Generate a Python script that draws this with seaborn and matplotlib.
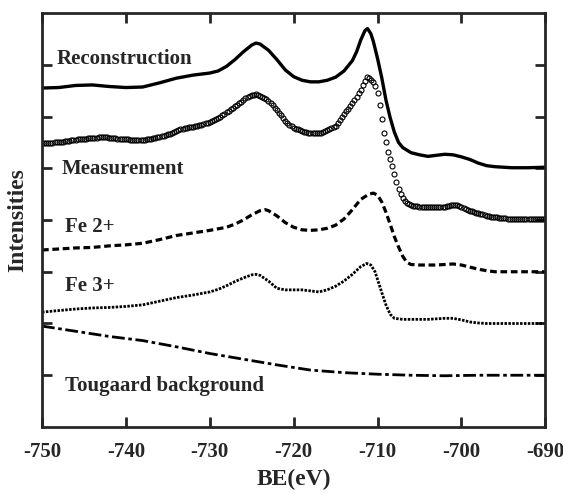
import numpy as np
import pandas as pd
import matplotlib
matplotlib.use("Agg")
import matplotlib.pyplot as plt
import seaborn as sns

# Widma Fe 2p (wartosci, przesuniete pionowo)
recon_be = [-750, -748, -746, -744, -742, -740, -738, -736, -734, -732, -730, -729, -728,
            -727, -726, -725, -724.5, -724, -723, -722, -721, -720, -719, -718, -717, -716,
            -715, -714, -713, -712.5, -712, -711.5, -711.2, -710.8, -710.5, -710, -709.5,
            -709, -708.5, -708, -707.5, -707, -706, -705, -704, -703, -702, -701, -700,
            -699, -698, -697, -696, -694, -692, -690]
recon_int = [6.55, 6.56, 6.60, 6.61, 6.58, 6.56, 6.57, 6.65, 6.74, 6.80, 6.84, 6.88, 6.97,
             7.10, 7.25, 7.38, 7.42, 7.40, 7.28, 7.10, 6.90, 6.77, 6.70, 6.67, 6.67, 6.70,
             6.76, 6.88, 7.08, 7.25, 7.48, 7.66, 7.70, 7.60, 7.45, 7.12, 6.75,
             6.32, 5.98, 5.70, 5.50, 5.40, 5.30, 5.26, 5.23, 5.25, 5.27, 5.26, 5.22,
             5.17, 5.10, 5.05, 5.03, 5.01, 5.01, 5.02]

# pomiar: co 0.25 eV od -750 do -690
meas_be = np.arange(-750, -689.99, 0.25)
meas_int = [
    5.48, 5.48, 5.48, 5.49, 5.49, 5.49, 5.50, 5.50, 5.50, 5.51, 5.51, 5.52, 5.52, 5.53, 5.54, 5.55, 5.55, 5.56, 5.56, 5.57,
    5.57, 5.57, 5.58, 5.58, 5.58, 5.59, 5.59, 5.60, 5.60, 5.60, 5.60, 5.60, 5.59, 5.59, 5.58, 5.58, 5.57, 5.57, 5.57, 5.56,
    5.56, 5.56, 5.55, 5.55, 5.55, 5.55, 5.55, 5.55, 5.55, 5.55, 5.56, 5.56, 5.57, 5.58, 5.59, 5.60, 5.61, 5.62, 5.63, 5.64,
    5.66, 5.67, 5.69, 5.70, 5.72, 5.73, 5.75, 5.76, 5.77, 5.78, 5.79, 5.79, 5.80, 5.81, 5.82, 5.83, 5.84, 5.85, 5.87, 5.88,
    5.90, 5.92, 5.94, 5.96, 5.98, 6.00, 6.03, 6.05, 6.08, 6.11, 6.14, 6.17, 6.20, 6.23, 6.26, 6.29, 6.32, 6.35, 6.37, 6.39,
    6.41, 6.42, 6.43, 6.42, 6.40, 6.38, 6.36, 6.33, 6.30, 6.26, 6.22, 6.17, 6.12, 6.07, 6.02, 5.97, 5.92, 5.88, 5.84, 5.81,
    5.78, 5.76, 5.75, 5.73, 5.72, 5.71, 5.70, 5.69, 5.68, 5.68, 5.68, 5.68, 5.68, 5.69, 5.70, 5.72, 5.74, 5.75, 5.77, 5.79,
    5.82, 5.87, 5.93, 5.99, 6.05, 6.10, 6.15, 6.20, 6.26, 6.32, 6.38, 6.45, 6.52, 6.60, 6.68, 6.76, 6.74, 6.70, 6.66, 6.58,
    6.45, 6.22, 5.95, 5.68, 5.50, 5.32, 5.17, 5.05, 4.88, 4.74, 4.60, 4.50, 4.43, 4.37, 4.33, 4.31, 4.29, 4.28, 4.27, 4.27,
    4.26, 4.26, 4.26, 4.26, 4.26, 4.26, 4.26, 4.26, 4.26, 4.26, 4.25, 4.25, 4.26, 4.27, 4.28, 4.29, 4.29, 4.29, 4.29, 4.28,
    4.25, 4.23, 4.21, 4.20, 4.18, 4.17, 4.15, 4.14, 4.13, 4.12, 4.11, 4.10, 4.08, 4.07, 4.06, 4.06, 4.05, 4.05, 4.04, 4.04,
    4.03, 4.03, 4.02, 4.02, 4.01, 4.01, 4.01, 4.01, 4.01, 4.01, 4.01, 4.01, 4.02, 4.02, 4.02, 4.02, 4.02, 4.02, 4.02, 4.02,
    4.02]

fe2_be = [-750, -748, -746, -744, -742, -740, -738, -736, -734, -732, -730, -728, -727, -726,
          -725, -724, -723.4, -723, -722, -721, -720, -719, -718, -717, -716, -715, -714,
          -713, -712, -711, -710.5, -710, -709.5, -709, -708.5, -708, -707.5, -707, -706.5,
          -706, -705, -704, -703, -702, -701, -700, -699, -698, -697, -696, -694, -692, -690]
fe2_int = [3.42, 3.44, 3.46, 3.47, 3.50, 3.52, 3.55, 3.62, 3.70, 3.75, 3.80, 3.86, 3.92, 4.00,
           4.10, 4.18, 4.20, 4.18, 4.08, 3.95, 3.86, 3.81, 3.80, 3.81, 3.84, 3.90, 4.02,
           4.20, 4.40, 4.50, 4.52, 4.48, 4.35, 4.15, 3.92, 3.68, 3.48, 3.30, 3.18,
           3.14, 3.13, 3.13, 3.13, 3.14, 3.15, 3.13, 3.09, 3.05, 3.02, 3.00, 3.00, 3.00, 3.00]

fe3_be = [-750, -748, -746, -744, -742, -740, -738, -736, -734, -732, -730, -729, -728, -727,
          -726, -725, -724.5, -724, -723, -722, -721, -720, -719, -718, -717, -716, -715,
          -714, -713, -712, -711.3, -710.8, -710.3, -710, -709.5, -709, -708.5, -708, -707,
          -706, -705, -704, -703, -702, -701, -700, -699, -698, -697, -694, -690]
fe3_int = [2.22, 2.25, 2.28, 2.30, 2.31, 2.33, 2.36, 2.43, 2.50, 2.55, 2.61, 2.66, 2.73, 2.81,
           2.88, 2.94, 2.95, 2.93, 2.82, 2.68, 2.65, 2.65, 2.65, 2.63, 2.61, 2.65, 2.72,
           2.82, 2.95, 3.10, 3.16, 3.13, 3.00, 2.85, 2.60, 2.36, 2.18, 2.10, 2.08,
           2.08, 2.08, 2.08, 2.09, 2.10, 2.10, 2.07, 2.03, 2.01, 2.00, 2.00, 2.00]

toug_be = [-750, -746, -742, -738, -734, -730, -726, -722, -718, -714, -710, -706, -702,
           -698, -694, -690]
toug_int = [1.95, 1.85, 1.75, 1.67, 1.55, 1.42, 1.31, 1.20, 1.10, 1.05, 1.02, 1.00, 0.99,
            1.00, 1.00, 1.00]

labels = ["Reconstruction", "Measurement", "Fe 2+", "Fe 3+", "Tougaard background"]
label_x = [-748.3, -747.7, -747.2, -747.2, -747.3]
label_y = [7.12, 4.98, 3.86, 2.73, 0.80]

sns.set_style("ticks")
plt.rcParams["font.family"] = ["Liberation Serif", "DejaVu Serif"]
plt.rcParams["font.weight"] = "bold"
plt.rcParams["axes.unicode_minus"] = False

fig = plt.figure(figsize=(5.63, 4.93), dpi=100)
ax = fig.add_axes([0.0746, 0.1339, 0.894, 0.8397])

sns.lineplot(x=recon_be, y=recon_int, ax=ax, color="black", lw=2.4, errorbar=None)
sns.lineplot(x=meas_be, y=meas_int, ax=ax, color="black", ls="", marker="o", ms=3.6,
             mfc="none", mec="black", mew=0.8, errorbar=None)
sns.lineplot(x=fe2_be, y=fe2_int, ax=ax, color="black", lw=2.3,
             dashes=False, ls=(0, (2.1, 1.15)), errorbar=None)
sns.lineplot(x=fe3_be, y=fe3_int, ax=ax, color="black", lw=2.0,
             dashes=False, ls=(0, (0.9, 0.5)), errorbar=None)
sns.lineplot(x=toug_be, y=toug_int, ax=ax, color="black", lw=2.0,
             dashes=False, ls=(0, (4.6, 1.3, 1.3, 1.3)), errorbar=None)

for t, x, y in zip(labels, label_x, label_y):
    ax.text(x, y, t, fontsize=15, fontweight="bold", ha="left", va="center")

ax.set_xlim(-750, -690)
ax.set_ylim(0, 8)
ax.set_xticks(np.arange(-750, -689, 10))
ax.set_yticks(np.arange(1, 8))
ax.set_yticklabels([])
ax.tick_params(direction="in", length=7, width=2, top=True, right=True,
               labelsize=15, pad=11)
for lab in ax.get_xticklabels():
    lab.set_fontweight("bold")
for s in ax.spines.values():
    s.set_linewidth(2)
ax.set_xlabel("BE(eV)", fontsize=17, fontweight="bold", labelpad=5)
ax.set_ylabel("Intensities", fontsize=17, fontweight="bold", labelpad=-1)

fig.savefig("out.png", dpi=100)
